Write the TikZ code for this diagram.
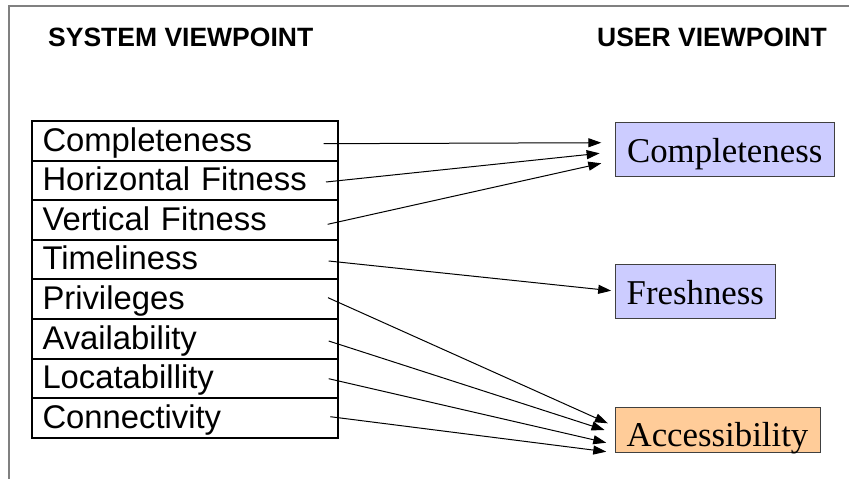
\documentclass[tikz,border=0pt]{standalone}
\usepackage{fontspec}
\setmainfont{Liberation Sans}
\newfontfamily\boxserif{Liberation Serif}
\usetikzlibrary{arrows.meta}
\definecolor{userblue}{HTML}{CCCCFF}
\definecolor{useraccess}{HTML}{FFCC99}
\definecolor{framegray}{HTML}{808080}
\begin{document}
\begin{tikzpicture}[x=1pt,y=-1pt,
  heading/.style={font=\bfseries\fontsize{26.5}{32}\selectfont, inner sep=0pt},
  sysrow/.style={draw, line width=2pt, minimum width=306pt, minimum height=39.6pt,
    anchor=north west, text width=285pt, align=left, inner xsep=10.5pt,
    text height=24pt, text depth=3.6pt, font=\fontsize{32.8}{38}\selectfont},
  userbox/.style={draw=black!75, line width=0.9pt, minimum height=54pt,
    text height=27.8pt, text depth=2.2pt, inner xsep=0pt,
    font=\boxserif\fontsize{34.8}{40}\selectfont},
  link/.style={-{Triangle[length=13pt,width=9pt]}, line width=1pt}
]
\useasboundingbox (0,0) rectangle (849,479);

% slide frame (left and top edges)
\coordinate (fbottom) at (9,480);
\coordinate (fcorner) at (9,6);
\coordinate (fright) at (850,6);
\draw[framegray, line width=1.2pt] (fbottom) -- (fcorner) -- (fright);

% column headings
\node[heading, anchor=base west] (hsys) at (48,46.5) {SYSTEM VIEWPOINT};
\node[heading, anchor=base east] (huser) at (827,46.5) {USER VIEWPOINT};

% system-side quality factors
\node[sysrow] (r1) at (31,120.0) {Completeness};
\node[sysrow] (r2) at (31,159.6) {Horizontal Fitness};
\node[sysrow] (r3) at (31,199.2) {Vertical Fitness};
\node[sysrow] (r4) at (31,238.8) {Timeliness};
\node[sysrow] (r5) at (31,278.4) {Privileges};
\node[sysrow] (r6) at (31,318.0) {Availability};
\node[sysrow] (r7) at (31,357.6) {Locatabillity};
\node[sysrow] (r8) at (31,397.2) {Connectivity};

% user-side quality factors
\node[userbox, fill=userblue, minimum width=219.3pt] (ucomp) at (724.7,149.7) {Completeness};
\node[userbox, fill=userblue, minimum width=160.7pt] (ufresh) at (695.3,291.3) {Freshness};
\node[userbox, fill=useraccess, minimum width=205pt, minimum height=45pt,
      text height=33pt, text depth=0pt, inner ysep=1pt] (uacc) at (717.5,430.2) {Accessibility};

% mappings
\draw[link] ([xshift=-15.3pt,yshift=-2.9pt]r1.east) -- ([xshift=-13.3pt,yshift=7pt]ucomp.west);
\draw[link] ([xshift=-13pt,yshift=-1.6pt]r2.east) -- ([xshift=-15pt,yshift=-3.6pt]ucomp.west);
\draw[link] ([xshift=-11.3pt,yshift=-4.3pt]r3.east) -- ([xshift=-13.3pt,yshift=-13.6pt]ucomp.west);
\draw[link] ([xshift=-10.3pt,yshift=-1.4pt]r4.east) -- ([xshift=-3.3pt,yshift=0.6pt]ufresh.west);
\draw[link] ([xshift=-11pt,yshift=1.5pt]r5.east) -- ([xshift=-6.7pt,yshift=6.9pt]uacc.west);
\draw[link] ([xshift=-10.3pt,yshift=-2.2pt]r6.east) -- ([xshift=-10pt,yshift=0.2pt]uacc.west);
\draw[link] ([xshift=-10.3pt,yshift=-0.3pt]r7.east) -- ([xshift=-8.3pt,yshift=-12.5pt]uacc.west);
\draw[link] ([xshift=-8.7pt,yshift=1.3pt]r8.east) -- ([xshift=-8.3pt,yshift=-21.5pt]uacc.west);
\end{tikzpicture}
\end{document}
